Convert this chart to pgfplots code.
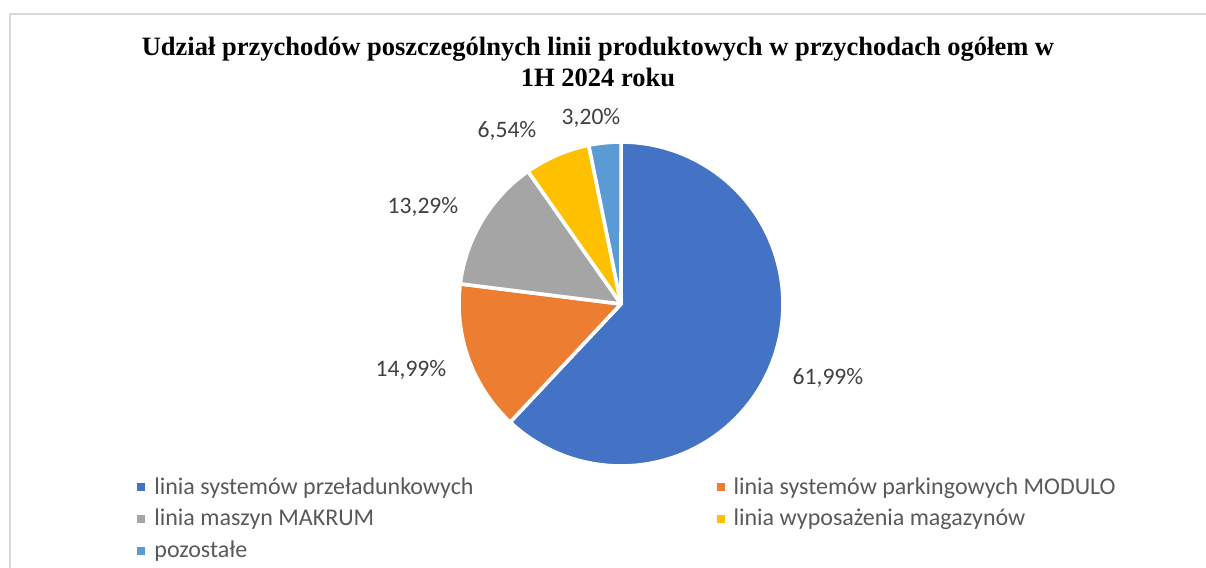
\documentclass[border=0pt]{standalone}
\usepackage{pgfplots}
\pgfplotsset{compat=1.18}
\usepackage{pgfplotstable}
\usepackage{fontspec}
\setmainfont{Liberation Serif}
\newfontfamily\calibri{Carlito}
\definecolor{cBlue}{HTML}{4472C4}
\definecolor{cOrange}{HTML}{ED7D31}
\definecolor{cGray}{HTML}{A5A5A5}
\definecolor{cYellow}{HTML}{FFC000}
\definecolor{cLBlue}{HTML}{5B9BD5}
\definecolor{lblText}{HTML}{404040}
\definecolor{legText}{HTML}{595959}
\definecolor{frameGray}{HTML}{D9D9D9}

\pgfplotstableread{
slice share
A 61.99
B 14.99
C 13.29
D 6.54
E 3.20
}\piedata

\begin{document}
\begin{tikzpicture}
\pgfplotstablegetelem{0}{share}\of\piedata\let\sA\pgfplotsretval
\pgfplotstablegetelem{1}{share}\of\piedata\let\sB\pgfplotsretval
\pgfplotstablegetelem{2}{share}\of\piedata\let\sC\pgfplotsretval
\pgfplotstablegetelem{3}{share}\of\piedata\let\sD\pgfplotsretval
\pgfplotstablegetelem{4}{share}\of\piedata\let\sE\pgfplotsretval
\pgfmathsetmacro\aA{90-3.6*\sA}%
\pgfmathsetmacro\aB{\aA-3.6*\sB}%
\pgfmathsetmacro\aC{\aB-3.6*\sC}%
\pgfmathsetmacro\aD{\aC-3.6*\sD}%
\pgfmathsetmacro\aE{\aD-3.6*\sE}%
\begin{axis}[
  scale only axis, width=603pt, height=284pt,
  xmin=0, xmax=1206, ymin=0, ymax=568,
  hide axis, clip=false,
  legend columns=2,
  legend cell align=left,
  legend image code/.code={\fill[#1,draw=none] (0pt,-2pt) rectangle (4pt,2pt);},
  legend style={
    at={(axis cs:131,99)}, anchor=north west, draw=none, fill=none,
    font=\calibri\fontsize{12}{14}\selectfont, text=legText,
    row sep=2pt,
    /tikz/every odd column/.append style={column sep=2.5pt},
    /tikz/every even column/.append style={column sep=119.5pt},
  },
  every axis plot/.append style={line join=round},
]
\def\cx{621}\def\cy{264}\def\R{162}
\addplot[fill=cBlue, draw=white, line width=1.8pt, domain=\aA:90, samples=150, variable=\t]
  ({\cx+\R*cos(t)},{\cy+\R*sin(t)}) -- (axis cs:\cx,\cy) -- cycle;
\addlegendentry{linia systemów przeładunkowych}
\addplot[fill=cOrange, draw=white, line width=1.8pt, domain=\aB:\aA, samples=50, variable=\t]
  ({\cx+\R*cos(t)},{\cy+\R*sin(t)}) -- (axis cs:\cx,\cy) -- cycle;
\addlegendentry{linia systemów parkingowych MODULO}
\addplot[fill=cGray, draw=white, line width=1.8pt, domain=\aC:\aB, samples=50, variable=\t]
  ({\cx+\R*cos(t)},{\cy+\R*sin(t)}) -- (axis cs:\cx,\cy) -- cycle;
\addlegendentry{linia maszyn MAKRUM}
\addplot[fill=cYellow, draw=white, line width=1.8pt, domain=\aD:\aC, samples=30, variable=\t]
  ({\cx+\R*cos(t)},{\cy+\R*sin(t)}) -- (axis cs:\cx,\cy) -- cycle;
\addlegendentry{linia wyposażenia magazynów}
\addplot[fill=cLBlue, draw=white, line width=1.8pt, domain=\aE:\aD, samples=20, variable=\t]
  ({\cx+\R*cos(t)},{\cy+\R*sin(t)}) -- (axis cs:\cx,\cy) -- cycle;
\addlegendentry{pozostałe}

\draw[frameGray, line width=1pt] (axis cs:10,0) -- (axis cs:10,554) -- (axis cs:1206,554);

\node[font=\bfseries\fontsize{13.25}{15.5}\selectfont, align=center] at (axis cs:598,506)
  {Udział przychodów poszczególnych linii produktowych w przychodach ogółem w\\1H 2024 roku};

\begin{scope}[every node/.style={font=\calibri\fontsize{11.8}{14}\selectfont, text=lblText}]
\node at (axis cs:828,190) {61,99\%};
\node at (axis cs:411,198) {14,99\%};
\node at (axis cs:423,361) {13,29\%};
\node at (axis cs:507,437) {6,54\%};
\node at (axis cs:591,450) {3,20\%};
\end{scope}
\coordinate (BL) at (axis cs:0,0);
\coordinate (TR) at (axis cs:1206,568);
\end{axis}
\pgfresetboundingbox
\useasboundingbox (BL) rectangle (TR);
\end{tikzpicture}%
\end{document}
